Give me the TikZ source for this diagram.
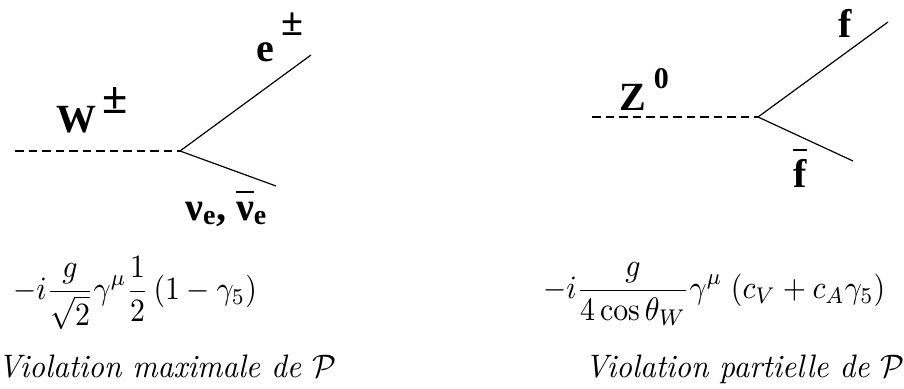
\documentclass[tikz,border=0pt]{standalone}
\usepackage{amsmath,amssymb}
\usepackage{graphicx}
\usepackage{fontspec}
\newfontfamily\timesfont{Liberation Serif}
\usetikzlibrary{positioning}
\newcommand{\pmup}[2]{\raisebox{#1}{\fontsize{#2}{#2}\selectfont ±}}
\newcommand{\nubar}{\vbox{\hrule height 1.4pt\kern 9pt\hbox{ν}}}
\newcommand{\enlarge}[1]{\scalebox{3.08}[3.25]{#1}}
\newcommand{\enlargemath}[1]{\scalebox{2.98}[3.25]{#1}}

\begin{document}
\begin{tikzpicture}[x=1pt,y=-1pt,
  boson/.style={line width=1.2pt,dash pattern=on 8.5pt off 5pt},
  fermion/.style={line width=1.2pt},
  lab/.style={font=\timesfont\bfseries\fontsize{40}{48}\selectfont,inner sep=0pt},
  formula/.style={font=\normalsize,inner sep=0pt}]
\useasboundingbox (0,0) rectangle (904,388);
% W vertex
\coordinate (wIn) at (15,151); \coordinate (vW) at (180,151);
\coordinate (eOut) at (311,55); \coordinate (nuOut) at (276,186);
\draw[boson] (wIn) -- (vW);
\draw[fermion] (vW) -- (eOut); \draw[fermion] (vW) -- (nuOut);
\node[lab,anchor=base west] (Wlab) at (56,132) {W\hspace{6pt}\pmup{19pt}{46}};
\node[lab,anchor=base west] (elab) at (256,61) {e\hspace{8pt}\pmup{26pt}{40}};
\node[lab,anchor=base west] (nulab) at (185,220) {ν\textsubscript{e}, \nubar\textsubscript{e}};
% Z vertex
\coordinate (zIn) at (592,117); \coordinate (vZ) at (758,117);
\coordinate (fOut) at (888,22); \coordinate (fbOut) at (853,161);
\draw[boson] (zIn) -- (vZ);
\draw[fermion] (vZ) -- (fOut); \draw[fermion] (vZ) -- (fbOut);
\node[lab,anchor=base west] (Zlab) at (619,110) {Z\hspace{8pt}\raisebox{22pt}{\fontsize{30}{36}\selectfont 0}};
\node[lab,anchor=base west] (flab) at (838,37) {f};
\node[lab,anchor=base west] (fblab) at (793,187) {\vbox{\hrule height 1.4pt\kern 8pt\hbox{f}}};
% couplings
\node[formula,anchor=west] (wcoup) at (13,293) {\enlargemath{$\displaystyle -i\frac{g}{\sqrt{2}}\gamma^\mu\frac{1}{2}\,(1-\gamma_5)$}};
\node[formula,anchor=west] (zcoup) at (543,294) {\enlargemath{$\displaystyle -i\frac{g}{4\cos\theta_W}\gamma^\mu\;(c_V+c_A\gamma_5)$}};
\node[formula,anchor=base west] (wviol) at (-2,377) {\enlarge{\itshape Violation maximale de $\mathcal{P}$}};
\node[formula,anchor=base west] (zviol) at (585,377) {\enlarge{\itshape Violation partielle de $\mathcal{P}$}};
\end{tikzpicture}
\end{document}
